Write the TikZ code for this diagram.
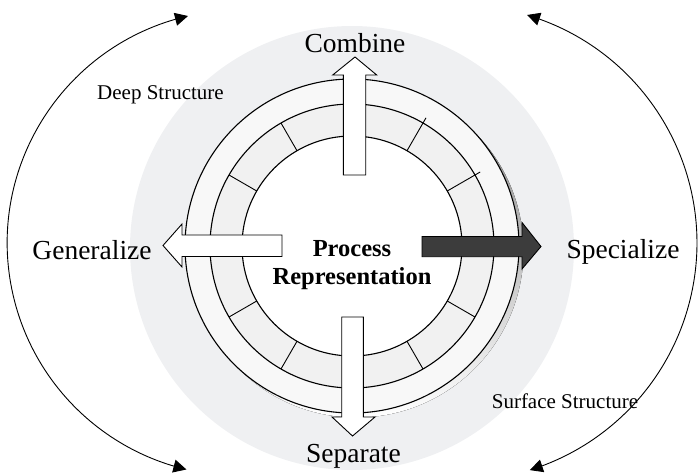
\documentclass[tikz,border=0pt]{standalone}
\usepackage{fontspec}
\setmainfont{Liberation Serif}
\usetikzlibrary{arrows.meta,calc,bending}

\definecolor{halo}{RGB}{239,240,242}
\definecolor{bandout}{RGB}{248,248,248}
\definecolor{bandin}{RGB}{241,241,241}
\definecolor{shade}{RGB}{140,140,140}
\definecolor{darkarrow}{RGB}{60,60,60}

\tikzset{
  biglabel/.style={inner sep=0pt, anchor=base, font=\fontsize{27.5}{33}\selectfont},
  smalllabel/.style={inner sep=0pt, anchor=base, font=\fontsize{21}{25}\selectfont},
  ringline/.style={draw=black, line width=1.1pt},
  tickline/.style={draw=black, line width=0.9pt},
  blockarrow/.style={draw=black, line width=0.9pt, line join=miter, fill=white},
  darkblock/.style={blockarrow, fill=darkarrow},
  cycleline/.style={draw=black, line width=0.9pt,
    {Triangle[length=13pt,width=13pt,flex]}-{Triangle[length=13pt,width=13pt,flex]}}
}

\begin{document}
\begin{tikzpicture}[x=1pt,y=-1pt]
\useasboundingbox (0,0) rectangle (698,476);

\coordinate (c) at (352,246);

% soft halo behind the wheel
\fill[halo] (352,248) circle[radius=222];

% drop shadow of the wheel
\fill[shade] ($(c)+(4.5,4.5)$) circle[radius=167];

% the three rings
\filldraw[ringline, fill=bandout] (c) circle[radius=167];
\filldraw[ringline, fill=bandin] (c) circle[radius=142];
\filldraw[ringline, fill=white] (c) circle[radius=110];

% segment ticks in the middle band
\foreach \a/\r in {-30/148,-60/148,-120/142,-150/142,30/142,60/142,120/142,150/142}
  \draw[tickline] ($(c)+(\a:110)$) -- ($(c)+(\a:\r)$);

% block arrows
\filldraw[blockarrow] (343.3,175) -- (343.3,75) -- (332.7,75) -- (355,57)
  -- (376.7,75) -- (365.7,75) -- (365.7,175) -- cycle;
\filldraw[blockarrow] (341.7,317) -- (341.7,417) -- (332,417) -- (352.5,436)
  -- (375,417) -- (363.3,417) -- (363.3,317) -- cycle;
\filldraw[blockarrow] (282,235) -- (182,235) -- (182,224) -- (163,245.5)
  -- (182,267) -- (182,256.5) -- (282,256.5) -- cycle;
\filldraw[darkblock] (422,236.5) -- (522,236.5) -- (522,222.5) -- (541,246.5)
  -- (522,269) -- (522,256.7) -- (422,256.7) -- cycle;

% centre title
\node[inner sep=0pt, align=center, font=\bfseries\fontsize{24.5}{28}\selectfont]
  (title) at (352,265) {Process\\Representation};

% direction labels
\node[biglabel] (combine) at (355,53) {Combine};
\node[biglabel] (separate) at (353.5,462) {Separate};
\node[biglabel] (general) at (92,259) {Generalize};
\node[biglabel] (special) at (623,258) {Specialize};

\node[smalllabel] (deep) at (160.5,100) {Deep Structure};
\node[smalllabel] (surface) at (565,408) {Surface Structure};

% cycle arcs on both sides
\coordinate (ltop) at (188,16);
\coordinate (rtop) at (527,15);
\draw[cycleline] (ltop) arc[start angle=-102.9, end angle=-256.7, radius=232.8];
\draw[cycleline] (rtop) arc[start angle=-73.4, end angle=72.7, radius=237.9];
\end{tikzpicture}
\end{document}
